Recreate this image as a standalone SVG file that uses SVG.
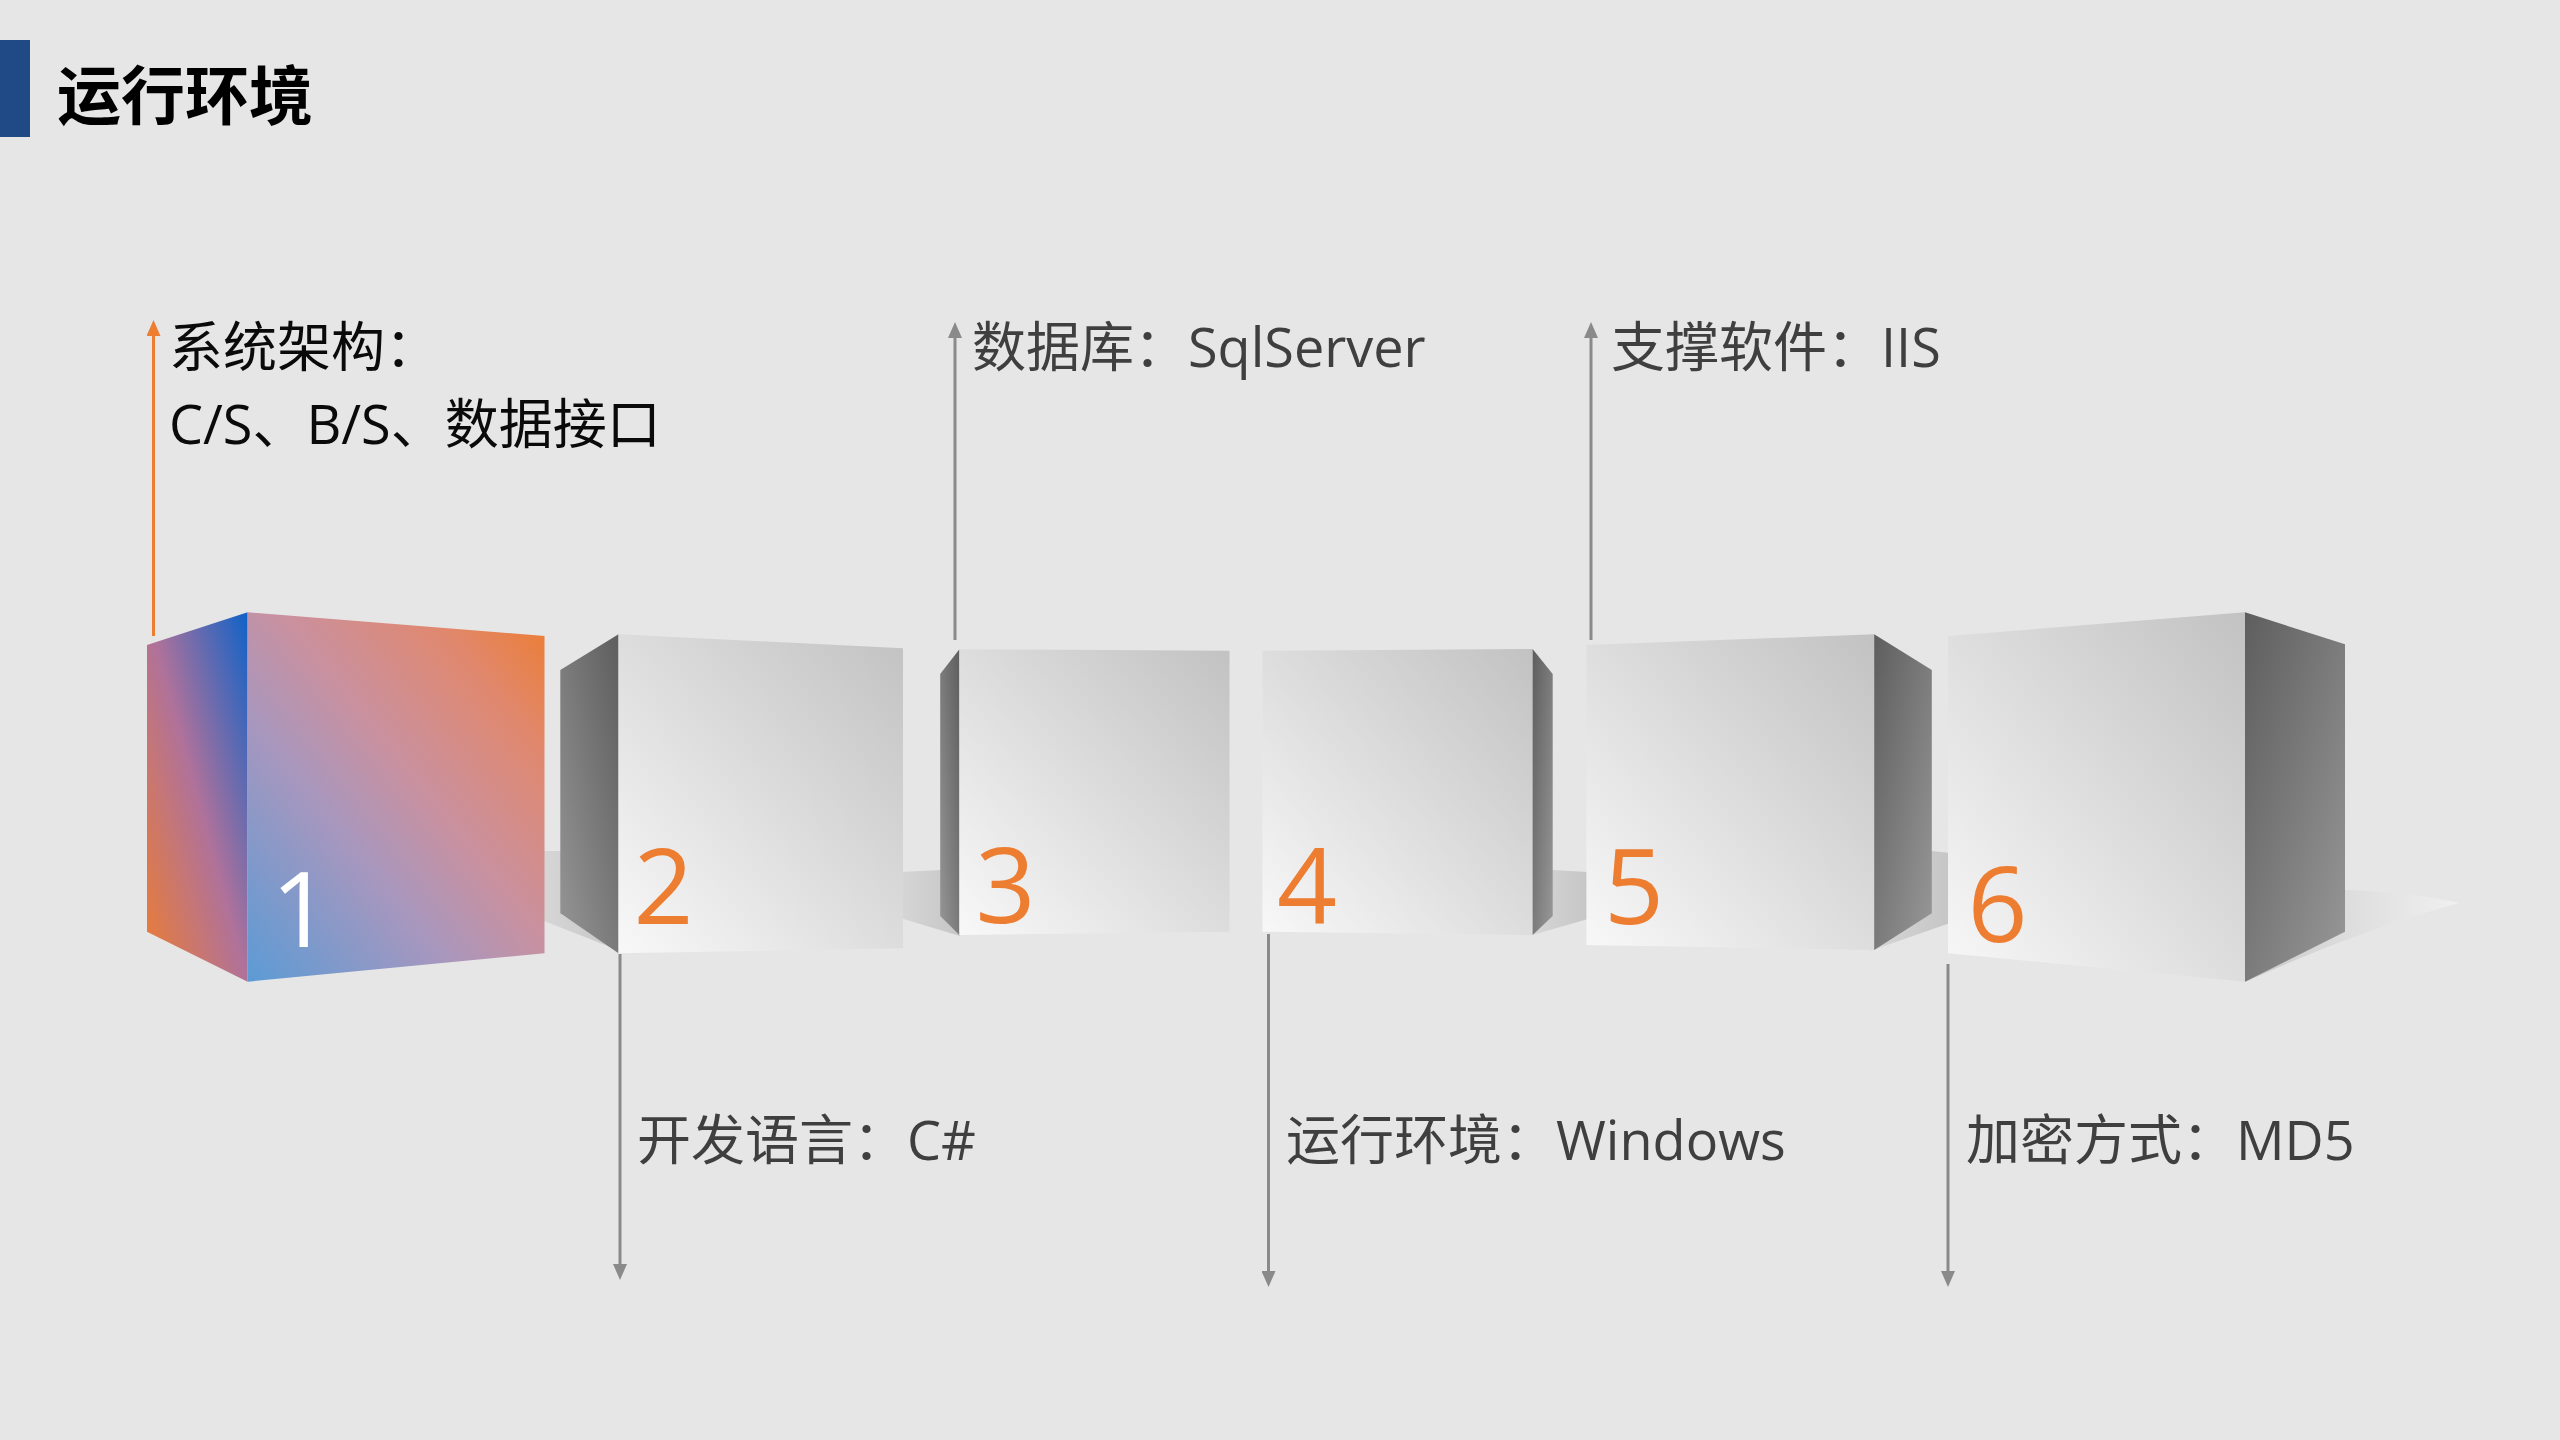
<svg xmlns="http://www.w3.org/2000/svg" width="2560" height="1440" viewBox="0 0 2560 1440">
  <defs>
    <style>
      .lbl { font-family: "Open Sans", "Noto Sans CJK SC", sans-serif; font-size: 54px; fill: #3F3F3F; }
      .lbl1 { fill: #0A0A0A; }
      .num { font-family: "Open Sans", "Noto Sans CJK SC", sans-serif; font-size: 105px; fill: #ED7D31; text-anchor: middle; }
      .gray-line { stroke: #8A8A8A; stroke-width: 3; fill: none; }
      .orange-line { stroke: #ED7D31; stroke-width: 3; fill: none; }
      .front { fill: url(#gFront); }
      .sideL { fill: url(#gSideL); }
      .sideR { fill: url(#gSideR); }
      .floor { fill: url(#gFloor); }
    </style>
    <linearGradient id="gFront" x1="0" y1="1" x2="1" y2="0">
      <stop offset="0" stop-color="#F8F8F8"/>
      <stop offset="1" stop-color="#C2C2C2"/>
    </linearGradient>
    <linearGradient id="gSideL" x1="0" y1="1" x2="1" y2="0">
      <stop offset="0" stop-color="#969696"/>
      <stop offset="1" stop-color="#5E5E5E"/>
    </linearGradient>
    <linearGradient id="gSideR" x1="0" y1="0" x2="1" y2="1">
      <stop offset="0" stop-color="#5E5E5E"/>
      <stop offset="1" stop-color="#989898"/>
    </linearGradient>
    <linearGradient id="gFloor" x1="0" y1="0" x2="1" y2="0">
      <stop offset="0" stop-color="#D6D6D6"/>
      <stop offset="1" stop-color="#C6C6C6"/>
    </linearGradient>
    <linearGradient id="gTail" x1="0" y1="0" x2="1" y2="0">
      <stop offset="0" stop-color="#C8C8C8"/>
      <stop offset="0.5" stop-color="#DEDEDE"/>
      <stop offset="1" stop-color="#F0F0F0"/>
    </linearGradient>
    <linearGradient id="gC1Front" x1="0" y1="1" x2="1" y2="0">
      <stop offset="0" stop-color="#5B9BD5"/>
      <stop offset="0.35" stop-color="#A697BF"/>
      <stop offset="0.55" stop-color="#C991A0"/>
      <stop offset="0.8" stop-color="#E0886F"/>
      <stop offset="1" stop-color="#ED7D31"/>
    </linearGradient>
    <linearGradient id="gC1Side" x1="0" y1="1" x2="1" y2="0">
      <stop offset="0" stop-color="#ED7D31"/>
      <stop offset="0.5" stop-color="#B0729A"/>
      <stop offset="1" stop-color="#0F62C8"/>
    </linearGradient>
    <marker id="arrGray" viewBox="0 0 16 14" refX="8" refY="7" markerWidth="16" markerHeight="14" markerUnits="userSpaceOnUse" orient="auto">
      <path d="M0,0 L16,7 L0,14 Z" fill="#8A8A8A"/>
    </marker>
    <marker id="arrOrange" viewBox="0 0 16 14" refX="8" refY="7" markerWidth="16" markerHeight="14" markerUnits="userSpaceOnUse" orient="auto">
      <path d="M0,0 L16,7 L0,14 Z" fill="#ED7D31"/>
    </marker>
  </defs>

  <rect x="0" y="0" width="2560" height="1440" fill="#E6E6E6"/>

  <g id="title">
    <rect x="0" y="40" width="30" height="97" fill="#1F4A86"/>
    <text x="57" y="119" font-family="'Noto Sans CJK SC', sans-serif" font-size="64" font-weight="700" fill="#000000">运行环境</text>
  </g>

  <g id="floor">
    <polygon class="floor" points="544,851 562,851 562,915 618,950 544,921"/>
    <polygon class="floor" points="900,872 942,870 960,936 900,918"/>
    <polygon class="floor" points="1532,935 1552,870 1588,872 1588,919"/>
    <polygon class="floor" points="1870,951 1932,851 1950,853 1950,923"/>
    <path d="M2245,982 L2345,890 Q2420,893 2459,903 Q2360,930 2245,982 Z" fill="url(#gTail)"/>
  </g>

  <g id="connectors">
    <line class="orange-line" x1="153.5" y1="636" x2="153.5" y2="328" marker-end="url(#arrOrange)"/>
    <line class="gray-line" x1="620" y1="954" x2="620" y2="1272" marker-end="url(#arrGray)"/>
    <line class="gray-line" x1="955" y1="640" x2="955" y2="330" marker-end="url(#arrGray)"/>
    <line class="gray-line" x1="1268.5" y1="934" x2="1268.5" y2="1279" marker-end="url(#arrGray)"/>
    <line class="gray-line" x1="1591" y1="640" x2="1591" y2="330" marker-end="url(#arrGray)"/>
    <line class="gray-line" x1="1948" y1="964" x2="1948" y2="1279" marker-end="url(#arrGray)"/>
  </g>

  <g id="node-1">
    <polygon points="147,645 247.6,612.3 247.6,981.7 147,931.7" fill="url(#gC1Side)"/>
    <polygon points="247.6,612.3 544.5,636 544.5,953.3 247.6,981.7" fill="url(#gC1Front)"/>
    <text class="num" x="301" y="946.7" style="fill:#FFFFFF">1</text>
    <text class="lbl lbl1" x="169" y="367">系统架构：</text>
    <text class="lbl lbl1" x="169" y="444">C/S、B/S、数据接口</text>
  </g>

  <g id="node-2">
    <polygon class="sideL" points="560.3,670 618.5,634.3 618.5,953.3 560.3,913.3"/>
    <polygon class="front" points="618.5,634.3 903,648.3 903,948.3 618.5,953.3"/>
    <text class="num" x="663.5" y="924">2</text>
    <text class="lbl" x="637" y="1160">开发语言：C#</text>
  </g>

  <g id="node-3">
    <polygon class="sideL" points="940.2,674 959.4,649.3 959.4,935 940.2,916"/>
    <polygon class="front" points="959.4,649.3 1229.5,650.7 1229.5,931.7 959.4,935"/>
    <text class="num" x="1005.5" y="922.7">3</text>
    <text class="lbl" x="972" y="367">数据库：SqlServer</text>
  </g>

  <g id="node-4">
    <polygon class="front" points="1262.5,650.7 1532.6,649 1532.6,935 1262.5,931.7"/>
    <polygon class="sideR" points="1532.6,649 1552.7,674 1552.7,916 1532.6,935"/>
    <text class="num" x="1307" y="922.7">4</text>
    <text class="lbl" x="1286" y="1160">运行环境：Windows</text>
  </g>

  <g id="node-5">
    <polygon class="front" points="1586.4,645 1874.2,634.3 1874.2,950 1586.4,945"/>
    <polygon class="sideR" points="1874.2,634.3 1931.8,670 1931.8,913.3 1874.2,950"/>
    <text class="num" x="1634" y="924">5</text>
    <text class="lbl" x="1611" y="367">支撑软件：IIS</text>
  </g>

  <g id="node-6">
    <polygon class="front" points="1948,636 2245,612.3 2245,981.7 1948,953.3"/>
    <polygon class="sideR" points="2245,612.3 2345,644.3 2345,931.7 2245,981.7"/>
    <text class="num" x="1997.5" y="941.7">6</text>
    <text class="lbl" x="1966" y="1160">加密方式：MD5</text>
  </g>
</svg>
